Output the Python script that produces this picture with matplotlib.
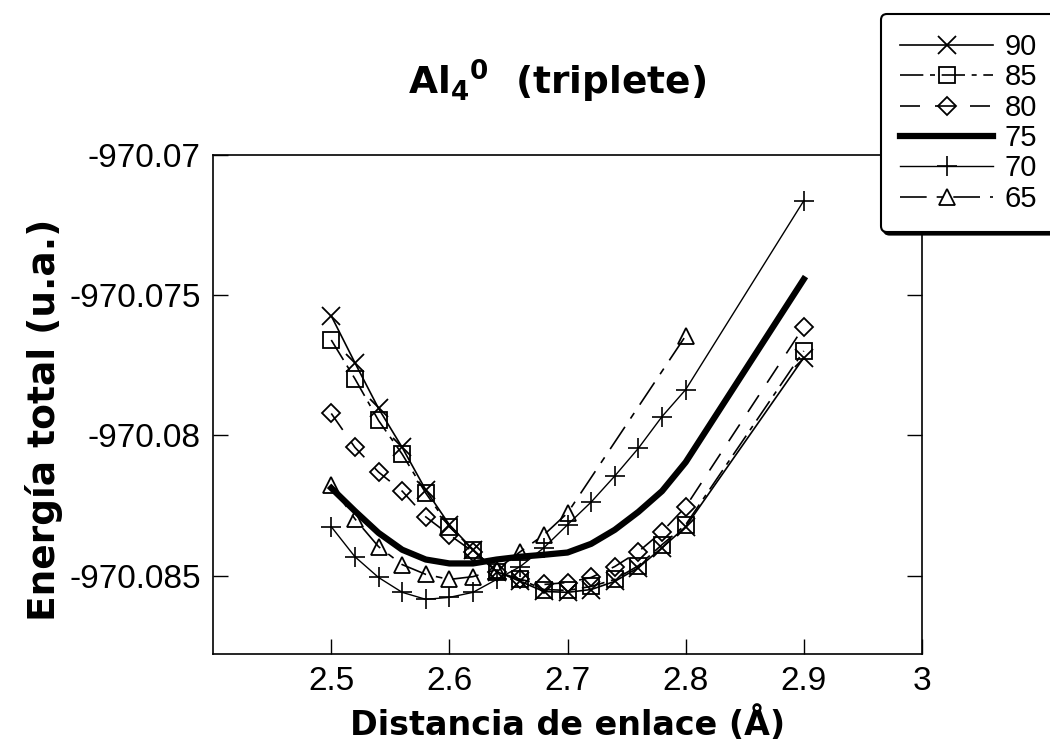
import numpy as np
import matplotlib
matplotlib.use("Agg")
import matplotlib.pyplot as plt

plt.rcParams['font.family'] = ['Liberation Sans', 'DejaVu Sans']
plt.rcParams['mathtext.fontset'] = 'dejavusans'

# bond distance (angstrom)
x_full = [2.50, 2.52, 2.54, 2.56, 2.58, 2.60, 2.62, 2.64, 2.66, 2.68,
          2.70, 2.72, 2.74, 2.76, 2.78, 2.80, 2.90]
x_65 = [2.50, 2.52, 2.54, 2.56, 2.58, 2.60, 2.62, 2.64, 2.66, 2.68, 2.70, 2.80]

# total energy (a.u.)
e_90 = [-970.07574, -970.07741, -970.07904, -970.08043, -970.08195, -970.08319,
        -970.08408, -970.08486, -970.08521, -970.08557, -970.08560, -970.08550,
        -970.08521, -970.08472, -970.08401, -970.08326, -970.07723]
e_85 = [-970.07660, -970.07798, -970.07947, -970.08067, -970.08206, -970.08326,
        -970.08408, -970.08486, -970.08514, -970.08550, -970.08553, -970.08539,
        -970.08514, -970.08465, -970.08390, -970.08319, -970.07699]
e_80 = [-970.07922, -970.08043, -970.08131, -970.08199, -970.08291, -970.08355,
        -970.08415, -970.08486, -970.08514, -970.08532, -970.08525, -970.08507,
        -970.08468, -970.08415, -970.08344, -970.08255, -970.07613]
e_75 = [-970.08188, -970.08270, -970.08348, -970.08408, -970.08443, -970.08457,
        -970.08457, -970.08443, -970.08433, -970.08426, -970.08418, -970.08387,
        -970.08337, -970.08273, -970.08199, -970.08096, -970.07443]
e_70 = [-970.08326, -970.08433, -970.08507, -970.08560, -970.08585, -970.08578,
        -970.08560, -970.08514, -970.08468, -970.08401, -970.08319, -970.08238,
        -970.08145, -970.08046, -970.07933, -970.07837, -970.07163]
e_65 = [-970.08177, -970.08298, -970.08397, -970.08461, -970.08496, -970.08514,
        -970.08504, -970.08479, -970.08415, -970.08355, -970.08277, -970.07645]

x_ticks = [2.5, 2.6, 2.7, 2.8, 2.9, 3.0]
x_labels = ['2.5', '2.6', '2.7', '2.8', '2.9', '3']
y_ticks = [-970.07, -970.075, -970.08, -970.085]
y_labels = ['-970.07', '-970.075', '-970.08', '-970.085']

fig = plt.figure(figsize=(10.5, 7.47), dpi=100)
ax = fig.add_axes([0.203, 0.1245, 0.675, 0.668])

ax.plot(x_full, e_90, color='k', lw=1.2, ls='-', marker='x', ms=13, mew=1.3, label='90')
ax.plot(x_full, e_85, color='k', lw=1.2, ls=(0, (14, 4, 3, 4)), marker='s', ms=11,
        mfc='none', mew=1.3, label='85')
ax.plot(x_full, e_80, color='k', lw=1.2, ls=(0, (12, 9)), marker='D', ms=9,
        mfc='none', mew=1.3, label='80')
ax.plot(x_full, e_75, color='k', lw=4.5, ls='-', label='75')
ax.plot(x_full, e_70, color='k', lw=1.0, ls='-', marker='+', ms=15, mew=1.2, label='70')
ax.plot(x_65, e_65, color='k', lw=1.2, ls=(0, (16, 6, 4, 6)), marker='^', ms=11,
        mfc='none', mew=1.3, label='65')

ax.set_xlim(2.4, 3.0)
ax.set_ylim(-970.0878, -970.07)
ax.set_xticks(x_ticks, x_labels)
ax.set_yticks(y_ticks, y_labels)
ax.tick_params(direction='in', length=11, width=1, right=True, top=False,
               labelsize=24, pad=9)
for s in ax.spines.values():
    s.set_linewidth(1.2)

ax.set_xlabel('Distancia de enlace (Å)', fontsize=24, fontweight='bold',
              family='DejaVu Sans', labelpad=6)
ax.set_ylabel('Energía total (u.a.)', fontsize=27, fontweight='bold',
              family='DejaVu Sans')
ax.yaxis.set_label_coords(-0.212, 0.47)

fig.text(0.531, 0.873, r'Al$_\mathbf{4}$$^\mathbf{0}$  (triplete)', fontsize=27,
         fontweight='bold', family='DejaVu Sans', ha='center', va='baseline')

leg = fig.legend(loc='upper left', bbox_to_anchor=(0.839, 0.981), borderaxespad=0,
                 fontsize=21, handlelength=3.2, handletextpad=0.38, labelspacing=0.08,
                 borderpad=0.65, fancybox=True, framealpha=1, edgecolor='k',
                 shadow={'color': 'k', 'alpha': 1})
leg.get_frame().set_linewidth(1.5)

fig.savefig('out.png', dpi=100)
